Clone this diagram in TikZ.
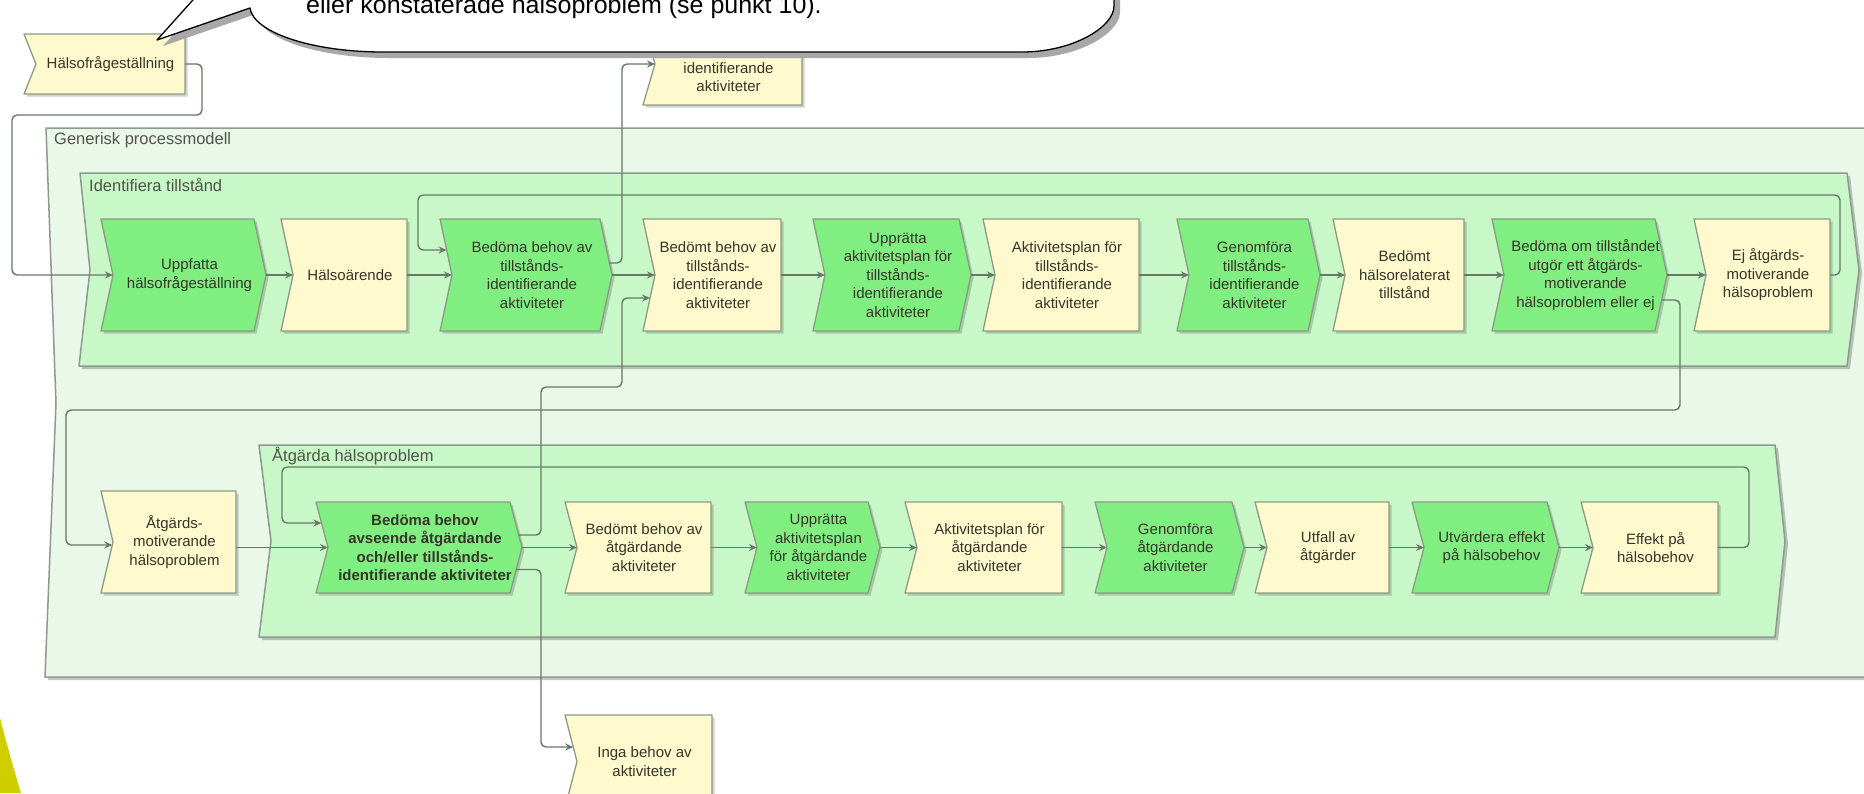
\documentclass[tikz,border=0pt]{standalone}
\usepackage{fontspec}
\setmainfont{Liberation Sans}
\usetikzlibrary{arrows.meta,calc}

\pgfdeclarelayer{paper}
\pgfdeclarelayer{cont}
\pgfdeclarelayer{shapes}
\pgfdeclarelayer{front}
\pgfsetlayers{paper,cont,shapes,main,front}

\definecolor{outerfill}{HTML}{E9F8E9}
\definecolor{innerfill}{HTML}{C8F8C8}
\definecolor{fngreen}{HTML}{80EE80}
\definecolor{evyellow}{HTML}{FFFACD}
\definecolor{boxline}{HTML}{8E9A86}
\definecolor{contline}{HTML}{8F9A8F}
\definecolor{connline}{HTML}{687868}
\definecolor{txtcol}{HTML}{35352A}
\definecolor{shadowcol}{HTML}{A8A8A8}
\definecolor{cornery}{HTML}{CFCF00}

\tikzset{
  x=1pt, y=-1pt,
  boxtxt/.style={inner sep=0pt, outer sep=0pt, align=center, text=txtcol,
    font=\fontsize{15}{18.5}\selectfont},
  fnfill/.style={fill=fngreen, draw=boxline, line width=1.3pt, line join=round},
  evfill/.style={fill=evyellow, draw=boxline, line width=1.3pt, line join=round},
  boxshadow/.style={fill=black, opacity=0.18},
  contfill/.style={draw=contline, line width=1.5pt, line join=round},
  contshadow/.style={fill=black, opacity=0.22},
  conn/.style={draw=connline, line width=1.4pt, rounded corners=5pt,
    -{Stealth[length=8pt,width=7pt]}},
  contlabel/.style={anchor=west, inner sep=0pt, text=txtcol!85,
    font=\fontsize{16.5}{19}\selectfont},
}

% green function box: notched left side, pointed right side
\newcommand\chevshape[1]{%
  \begin{pgfonlayer}{shapes}
  \begin{scope}
  \clip (0,0) rectangle (1864,793);
  \fill[boxshadow] ($(#1.north west)+(-9.5,2.5)$) -- ($(#1.north east)+(-9.5,2.5)$)
    -- ($(#1.east)+(2.5,2.5)$) -- ($(#1.south east)+(-9.5,2.5)$)
    -- ($(#1.south west)+(-9.5,2.5)$) -- ($(#1.west)+(2.5,2.5)$) -- cycle;
  \path[fnfill] ($(#1.north west)+(-12,0)$) -- ($(#1.north east)+(-12,0)$)
    -- (#1.east) -- ($(#1.south east)+(-12,0)$)
    -- ($(#1.south west)+(-12,0)$) -- (#1.west) -- cycle;
  \end{scope}
  \end{pgfonlayer}}

% yellow event box: notched left side, straight right side
\newcommand\evshape[1]{%
  \begin{pgfonlayer}{shapes}
  \begin{scope}
  \clip (0,0) rectangle (1864,793);
  \fill[boxshadow] ($(#1.north west)+(-9.5,2.5)$) -- ($(#1.north east)+(2.5,2.5)$)
    -- ($(#1.south east)+(2.5,2.5)$) -- ($(#1.south west)+(-9.5,2.5)$)
    -- ($(#1.west)+(2.5,2.5)$) -- cycle;
  \path[evfill] ($(#1.north west)+(-12,0)$) -- (#1.north east)
    -- (#1.south east) -- ($(#1.south west)+(-12,0)$) -- (#1.west) -- cycle;
  \end{scope}
  \end{pgfonlayer}}

\begin{document}
\begin{tikzpicture}
\useasboundingbox (0,0) rectangle (1864,793);
\begin{pgfonlayer}{paper}
\fill[white] (0,0) rectangle (1864,793);
\end{pgfonlayer}

% ---------- containers ----------
\begin{pgfonlayer}{cont}
\begin{scope}
\clip (0,0) rectangle (1864,793);
\fill[contshadow] (49,131) -- (1903,131) -- (1903,680) -- (48,680) -- (59,406) -- cycle;
\path[contfill, fill=outerfill] (46,128) -- (1900,128) -- (1900,677) -- (45,677) -- (56,403) -- cycle;
\fill[contshadow] (83,176) -- (1850,176) -- (1862,273) -- (1850,369) -- (82,369) -- (93,273) -- cycle;
\path[contfill, fill=innerfill] (80,173) -- (1847,173) -- (1859,270) -- (1847,366) -- (79,366) -- (90,270) -- cycle;
\fill[contshadow] (262,448) -- (1778,448) -- (1788,544) -- (1778,640) -- (262,640) -- (274,544) -- cycle;
\path[contfill, fill=innerfill] (259,445) -- (1775,445) -- (1785,541) -- (1775,637) -- (259,637) -- (271,541) -- cycle;
\fill[cornery] (0,718) .. controls (7,745) and (14,770) .. (21,793) -- (0,793) -- cycle;
\end{scope}
\end{pgfonlayer}

\node[contlabel] (lblgen) at (54,140) {Generisk processmodell};
\node[contlabel] (lblid) at (89,185) {Identifiera tillstånd};
\node[contlabel] (lblatg) at (272,456) {Åtgärda hälsoproblem};

% ---------- boxes outside the containers ----------
\node[boxtxt, minimum width=149pt, minimum height=60pt] (hfs) at (110.5,64) {Hälsofrågeställning};
\evshape{hfs}
\node[boxtxt, minimum width=147pt, minimum height=82pt] (top) at (728.5,64)
  {\mbox{}\\tillstånds-\\identifierande\\aktiviteter};
\evshape{top}
\node[boxtxt, minimum width=135pt, minimum height=93pt] (inga) at (644.5,761.5) {Inga behov av\\aktiviteter};
\evshape{inga}

% ---------- row: identifiera tillstånd ----------
\node[boxtxt, minimum width=153pt, minimum height=112pt] (g1) at (189.5,275) {Uppfatta\\hälsofrågeställning};
\chevshape{g1}
\node[boxtxt, minimum width=114pt, minimum height=112pt] (y1) at (350,275) {Hälsoärende};
\evshape{y1}
\node[boxtxt, minimum width=160pt, minimum height=112pt] (g3) at (532,275) {Bedöma behov av\\tillstånds-\\identifierande\\aktiviteter};
\chevshape{g3}
\node[boxtxt, minimum width=126pt, minimum height=112pt] (y4) at (718,275) {Bedömt behov av\\tillstånds-\\identifierande\\aktiviteter};
\evshape{y4}
\node[boxtxt, minimum width=146pt, minimum height=112pt] (g5) at (898,275) {Upprätta\\aktivitetsplan för\\tillstånds-\\identifierande\\aktiviteter};
\chevshape{g5}
\node[boxtxt, minimum width=144pt, minimum height=112pt] (y6) at (1067,275) {Aktivitetsplan för\\tillstånds-\\identifierande\\aktiviteter};
\evshape{y6}
\node[boxtxt, minimum width=131pt, minimum height=112pt] (g7) at (1254.5,275) {Genomföra\\tillstånds-\\identifierande\\aktiviteter};
\chevshape{g7}
\node[boxtxt, minimum width=119pt, minimum height=112pt] (y8) at (1404.5,275) {Bedömt\\hälsorelaterat\\tillstånd};
\evshape{y8}
\node[boxtxt, minimum width=163pt, minimum height=112pt] (g9) at (1585.5,275) {Bedöma om tillståndet\\utgör ett åtgärds-\\motiverande\\hälsoproblem eller ej};
\chevshape{g9}
\node[boxtxt, minimum width=124pt, minimum height=112pt] (y10) at (1768,275) {Ej åtgärds-\\motiverande\\hälsoproblem};
\evshape{y10}

% ---------- row: åtgärda hälsoproblem ----------
\node[boxtxt, minimum width=123pt, minimum height=102pt] (a1) at (174.5,542) {Åtgärds-\\motiverande\\hälsoproblem};
\evshape{a1}
\node[boxtxt, minimum width=194pt, minimum height=91pt,
  font=\fontsize{15}{18.5}\selectfont\bfseries] (b2) at (425,547.5)
  {Bedöma behov\\avseende åtgärdande\\och/eller tillstånds-\\identifierande aktiviteter};
\chevshape{b2}
\node[boxtxt, minimum width=134pt, minimum height=91pt] (c3) at (644,547.5) {Bedömt behov av\\åtgärdande\\aktiviteter};
\evshape{c3}
\node[boxtxt, minimum width=123pt, minimum height=91pt] (d4) at (818.5,547.5) {Upprätta\\aktivitetsplan\\för åtgärdande\\aktiviteter};
\chevshape{d4}
\node[boxtxt, minimum width=145pt, minimum height=91pt] (e5) at (989.5,547.5) {Aktivitetsplan för\\åtgärdande\\aktiviteter};
\evshape{e5}
\node[boxtxt, minimum width=137pt, minimum height=91pt] (f6) at (1175.5,547.5) {Genomföra\\åtgärdande\\aktiviteter};
\chevshape{f6}
\node[boxtxt, minimum width=122pt, minimum height=91pt] (h7) at (1328,547.5) {Utfall av\\åtgärder};
\evshape{h7}
\node[boxtxt, minimum width=135pt, minimum height=91pt] (k8) at (1491.5,547.5) {Utvärdera effekt\\på hälsobehov};
\chevshape{k8}
\node[boxtxt, minimum width=125pt, minimum height=91pt] (m9) at (1655.5,547.5) {Effekt på\\hälsobehov};
\evshape{m9}

% ---------- connectors ----------
\draw[conn] (hfs.east) -- (202,64) -- (202,115) -- (12,115) -- (12,275) -- (g1.west);
\draw[conn] (g1.east) -- (y1.west);
\draw[conn] (y1.east) -- (g3.west);
\draw[conn] (g3.east) -- (y4.west);
\draw[conn] (y4.east) -- (g5.west);
\draw[conn] (g5.east) -- (y6.west);
\draw[conn] (y6.east) -- (g7.west);
\draw[conn] (g7.east) -- (y8.west);
\draw[conn] (y8.east) -- (g9.west);
\draw[conn] (g9.east) -- (y10.west);
\draw[conn] (y10.east) -- (1840,275) -- (1840,195) -- (418,195) -- (418,250)
  -- ($(g3.west)+(-5.4,-25)$);
\draw[conn] ($(g3.east)+(-2.6,-12)$) -- (622,263) -- (622,64) -- (top.west);
\draw[conn] ($(g9.east)+(-5.4,25)$) -- (1680,300) -- (1680,410) -- (66,410) -- (66,545)
  -- ($(a1.west)+(-0.7,3)$);

\draw[conn] (a1.east |- b2.west) -- (b2.west);
\draw[conn] (b2.east) -- (c3.west);
\draw[conn] (c3.east) -- (d4.west);
\draw[conn] (d4.east) -- (e5.west);
\draw[conn] (e5.east) -- (f6.west);
\draw[conn] (f6.east) -- (h7.west);
\draw[conn] (h7.east) -- (k8.west);
\draw[conn] (k8.east) -- (m9.west);
\draw[conn] (m9.east) -- (1749,547.5) -- (1749,467) -- (282,467) -- (282,523)
  -- ($(b2.west)+(-6.5,-24.5)$);
\draw[conn] ($(b2.east)+(-3.3,-12.5)$) -- (541,535) -- (541,387) -- (622,387) -- (622,298)
  -- ($(y4.west)+(-4.9,23)$);
\draw[conn] ($(b2.east)+(-5.8,22)$) -- (541,569.5) -- (541,747) -- ($(inga.west)+(-3.7,-14.5)$);

% ---------- speech bubble ----------
\begin{pgfonlayer}{front}
\begin{scope}
\clip (0,0) rectangle (1864,793);
\fill[shadowcol] (259,-120) -- (259,-61) -- (163,46) -- (256,14)
  .. controls (259,38) and (317,58) .. (389,58) -- (1028,58)
  .. controls (1079,58) and (1120,33) .. (1120,12) -- (1120,-120) -- cycle;
\path[fill=white, draw=black, line width=1.3pt, line join=round]
  (253,-120) -- (253,-67) -- (157,40) -- (250,8)
  .. controls (253,32) and (311,52) .. (383,52) -- (1022,52)
  .. controls (1073,52) and (1114,27) .. (1114,6) -- (1114,-120);
\end{scope}
\node[anchor=base west, inner sep=0pt, font=\fontsize{25}{29}\selectfont] (note) at (306,13)
  {eller konstaterade hälsoproblem (se punkt 10).};
\end{pgfonlayer}
\end{tikzpicture}
\end{document}
